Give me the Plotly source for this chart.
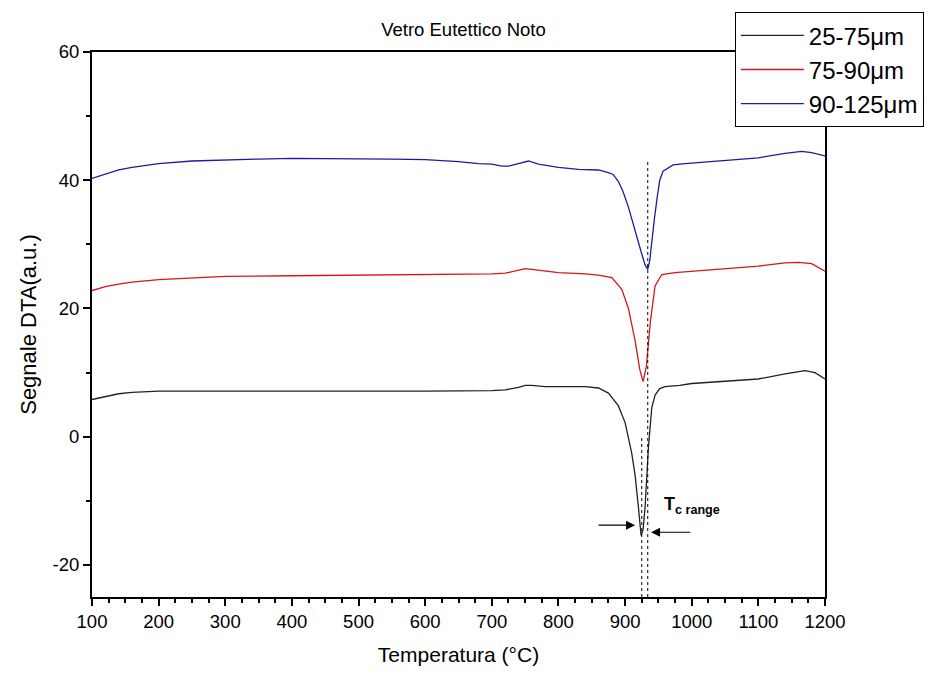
import plotly.graph_objects as go

# ---------------- data ----------------
black_name = "25-75μm"
black_x = [100,120,140,160,180,200,250,300,400,500,600,700,720,740,750,760,780,800,840,860,875,890,900,910,915,920,924,927,930,935,940,945,952,960,982,1000,1050,1100,1140,1170,1185,1200]
black_y = [5.8,6.3,6.7,6.9,7.0,7.1,7.1,7.1,7.0,7.0,7.1,7.2,7.3,7.7,8.0,8.0,7.8,7.8,7.8,7.6,6.8,4.8,2.2,-2.6,-6.0,-11.0,-15.4,-14.5,-11.0,-1.7,4.5,6.5,7.5,7.8,8.0,8.3,8.6,9.0,9.8,10.3,10.0,9.0]

red_name = "75-90μm"
red_x = [100,120,140,160,200,250,300,400,500,600,650,700,720,740,750,760,780,800,840,860,880,895,905,915,922,927,932,938,945,955,975,1000,1050,1100,1140,1160,1180,1200]
red_y = [22.8,23.4,23.8,24.1,24.5,24.8,25.0,25.1,25.2,25.3,25.3,25.4,25.5,26.0,26.2,26.1,25.8,25.6,25.4,25.2,24.8,23.0,20.0,15.0,10.5,8.6,11.0,18.0,23.5,25.3,25.6,25.8,26.2,26.6,27.1,27.2,27.0,25.8]

blue_name = "90-125μm"
blue_x = [100,120,140,160,200,250,300,350,400,450,500,550,600,650,680,700,715,725,740,755,770,800,830,860,875,882,890,897,905,912,918,925,930,934,937,940,944,948,952,957,965,972,990,1012,1050,1100,1140,1165,1180,1200]
blue_y = [40.3,41.0,41.6,42.0,42.6,43.0,43.2,43.3,43.4,43.4,43.4,43.3,43.2,42.9,42.6,42.5,42.2,42.2,42.6,43.0,42.5,42.0,41.7,41.6,41.2,40.9,39.8,38.2,35.8,33.1,30.8,28.5,26.8,26.1,27.5,30.5,34.0,37.2,40.0,41.4,42.0,42.4,42.6,42.8,43.1,43.5,44.2,44.5,44.3,43.8]

x_tickvals = [100,200,300,400,500,600,700,800,900,1000,1100,1200]
y_tickvals = [-20,0,20,40,60]
y_ticktext = ["-20","0","20","40","60"]

# T_c range markers (data units)
tc_low_x, tc_low_top = 925, 0.0
tc_high_x, tc_high_top = 934, 43.2
arrow_left = (858, 915, -13.8)     # tail x, head x, y
arrow_right = (1000, 939, -14.9)
tc_label_x, tc_label_y = 956, -10.8

x_range = [100, 1200]
y_range = [-25, 60]

FONT = "Arial, Liberation Sans, sans-serif"

fig = go.Figure()
fig.add_trace(go.Scatter(x=black_x, y=black_y, mode="lines", name=black_name,
                         line=dict(color="#222222", width=1.3)))
fig.add_trace(go.Scatter(x=red_x, y=red_y, mode="lines", name=red_name,
                         line=dict(color="#d8141c", width=1.3)))
fig.add_trace(go.Scatter(x=blue_x, y=blue_y, mode="lines", name=blue_name,
                         line=dict(color="#1c1c9c", width=1.3)))

# dotted vertical lines
for xv, top in [(tc_low_x, tc_low_top), (tc_high_x, tc_high_top)]:
    fig.add_shape(type="line", xref="x", yref="y", x0=xv, x1=xv, y0=y_range[0], y1=top,
                  line=dict(color="black", width=1, dash="dot"))

# arrows
for tail, head, yv in [arrow_left, arrow_right]:
    fig.add_annotation(x=head, y=yv, ax=tail, ay=yv, xref="x", yref="y", axref="x", ayref="y",
                       text="", showarrow=True, arrowhead=2, arrowsize=1.5, arrowwidth=1.2,
                       arrowcolor="black")

fig.add_annotation(x=tc_label_x, y=tc_label_y, xref="x", yref="y", xanchor="left", yanchor="middle",
                   text="<b>T<sub>c range</sub></b>", showarrow=False,
                   font=dict(family=FONT, size=18, color="black"))

axis_common = dict(showline=True, linecolor="black", linewidth=2, mirror=True,
                   ticks="outside", ticklen=7, tickwidth=2, tickcolor="black",
                   showgrid=False, zeroline=False,
                   tickfont=dict(family=FONT, size=18.5, color="black"))

fig.update_xaxes(range=x_range, tickvals=x_tickvals,
                 minor=dict(dtick=25, ticklen=4, tickwidth=1.5, tickcolor="black", ticks="outside"),
                 title=dict(text="Temperatura (°C)", standoff=16,
                            font=dict(family=FONT, size=21, color="black")),
                 **axis_common)
fig.update_yaxes(range=y_range, tickvals=y_tickvals, ticktext=y_ticktext,
                 minor=dict(dtick=10, ticklen=4, tickwidth=1.5, tickcolor="black", ticks="outside"),
                 title=dict(text="Segnale DTA(a.u.)", standoff=10,
                            font=dict(family=FONT, size=22, color="black")),
                 **axis_common)

fig.update_layout(
    width=942, height=679,
    margin=dict(l=92, r=117, t=50, b=82),
    paper_bgcolor="white", plot_bgcolor="white",
    title=dict(text="Vetro Eutettico Noto", x=0.492, xanchor="center", y=0.956, yanchor="middle",
               yref="container", font=dict(family=FONT, size=18.5, color="black")),
    legend=dict(x=0.877, y=1.073, xanchor="left", yanchor="top",
                bordercolor="black", borderwidth=1, bgcolor="white",
                font=dict(family=FONT, size=24, color="black"),
                itemwidth=63, tracegroupgap=0),
    showlegend=True,
)

fig.write_html("out.html")
